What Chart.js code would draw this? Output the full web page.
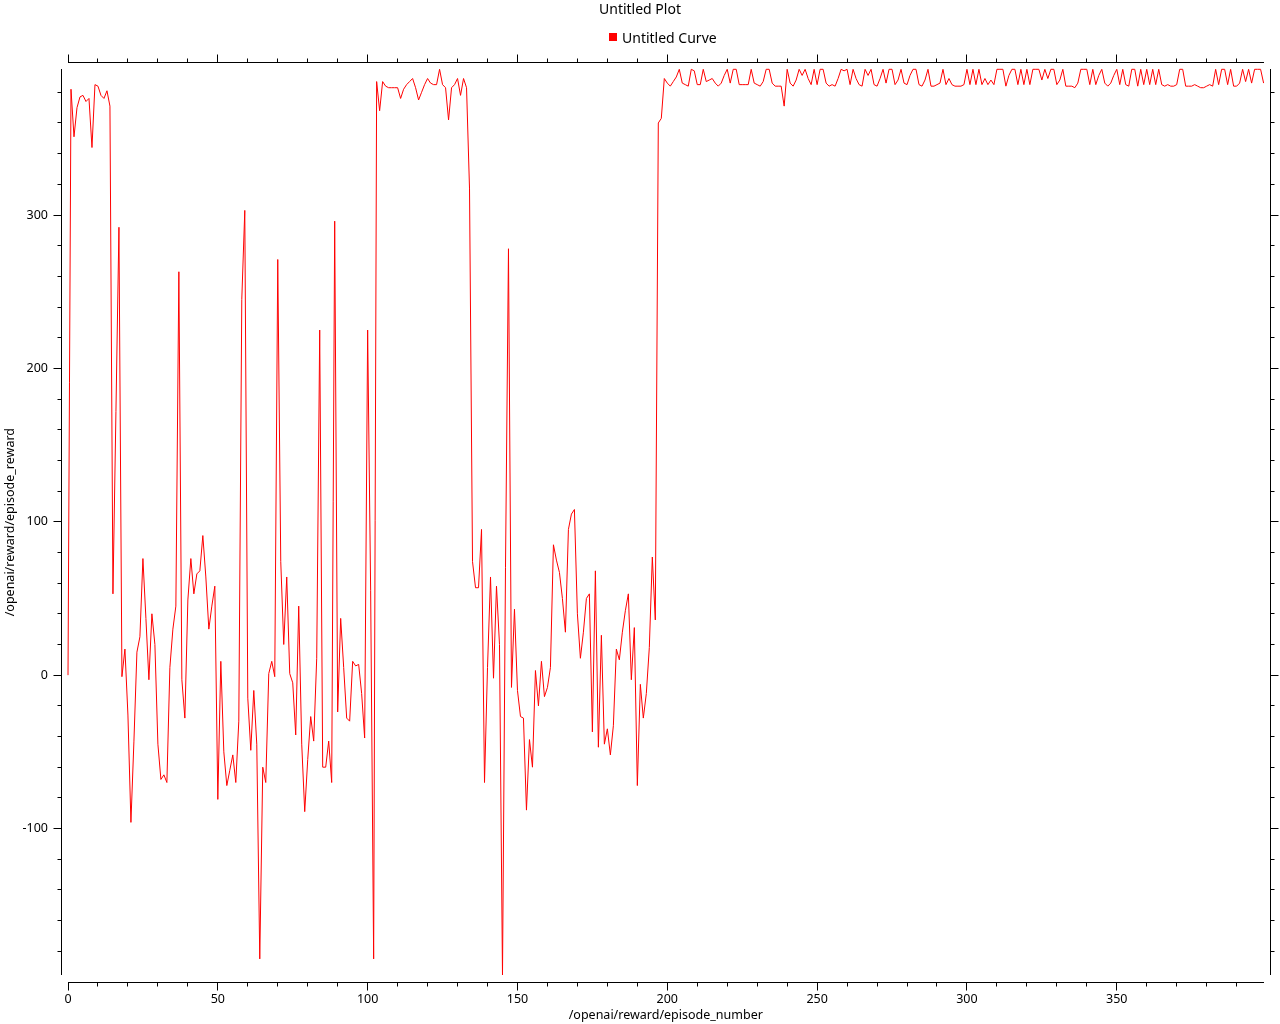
<!DOCTYPE html>
<html>
<head>
<meta charset="utf-8">
<script src="https://cdn.jsdelivr.net/npm/chart.js@4.4.1/dist/chart.umd.min.js"></script>
<style>
  html, body { margin: 0; padding: 0; background: #ffffff; }
  #wrap { position: relative; width: 1280px; height: 1024px; overflow: hidden; }
  canvas { position: absolute; left: 0; top: 0; }
  #title { position: absolute; left: 0; top: 0; width: 1280px; text-align: center;
           font: 14px "Noto Sans", "DejaVu Sans", sans-serif; line-height: 18px; color: #000; }
  #legend { position: absolute; left: 609px; top: 28px; height: 18px; display: flex; align-items: center;
            font: 14px "Noto Sans", "DejaVu Sans", sans-serif; color: #000; }
  #legend .sw { width: 8px; height: 8px; background: #ff0000; margin-right: 5px; }
</style>
</head>
<body>
<div id="wrap">
  <canvas id="c" width="1280" height="1024"></canvas>
  <div id="title">Untitled Plot</div>
  <div id="legend"><span class="sw"></span><span>Untitled Curve</span></div>
</div>
<script>
// ---- data ----
const plotTitle = "Untitled Plot";
const seriesName = "Untitled Curve";
const xAxisTitle = "/openai/reward/episode_number";
const yAxisTitle = "/openai/reward/episode_reward";

const rewards = [
  0, 382, 351, 370, 377, 378, 374, 376, 344, 385,
  384, 378, 376, 381, 371, 53, 172, 292, -1, 17,
  -26, -96, -43, 15, 25, 76, 37, -3, 40, 20,
  -45, -68, -65, -70, 5, 30, 45, 263, -3, -28,
  49, 76, 53, 66, 68, 91, 64, 30, 45, 58,
  -81, 9, -50, -72, -62, -52, -70, -30, 245, 303,
  -15, -49, -10, -45, -185, -60, -70, 1, 9, -1,
  271, 74, 20, 64, 1, -5, -39, 45, -45, -89,
  -55, -27, -43, 11, 225, -60, -60, -43, -70, 296,
  -24, 37, 5, -28, -30, 9, 6, 7, -12, -41,
  225, 55, -185, 387, 368, 387, 384, 383, 383, 383,
  383, 376, 382, 385, 387, 389, 383, 375, 380, 385,
  389, 386, 385, 385, 395, 385, 383, 362, 383, 385,
  389, 378, 389, 383, 317, 74, 57, 57, 95, -70,
  5, 64, -2, 58, 20, -195.5, 70, 278, -8, 43,
  -10, -27, -28, -88, -42, -60, 3, -20, 9, -14,
  -8, 5, 85, 75, 67, 50, 28, 95, 105, 108,
  40, 11, 28, 50, 53, -37, 68, -47, 26, -45,
  -35, -52, -33, 17, 10, 28, 42, 53, -3, 31,
  -72, -6, -28, -12, 18, 77, 36, 360, 363, 389,
  386, 384, 387, 390, 395, 386, 385, 384, 395, 394,
  385, 385, 395, 387, 388, 389, 386, 384, 386, 391,
  395, 386, 395, 395, 385, 385, 385, 385, 395, 386,
  385, 384, 387, 395, 395, 386, 384, 384, 384, 371,
  395, 386, 384, 388, 395, 391, 395, 389, 385, 395,
  385, 395, 395, 386, 384, 385, 384, 389, 395, 394,
  395, 385, 395, 389, 385, 384, 395, 391, 395, 385,
  384, 389, 395, 386, 395, 395, 385, 388, 395, 386,
  385, 391, 395, 395, 385, 384, 388, 395, 384, 384,
  385, 386, 395, 385, 389, 385, 384, 384, 384, 385,
  395, 385, 395, 385, 395, 385, 389, 385, 388, 385,
  395, 395, 395, 384, 391, 395, 395, 385, 395, 385,
  395, 385, 395, 395, 395, 388, 395, 389, 395, 395,
  385, 388, 395, 384, 384, 384, 383, 386, 395, 395,
  395, 385, 395, 385, 391, 395, 386, 384, 386, 391,
  395, 385, 395, 385, 384, 395, 395, 384, 395, 385,
  395, 385, 395, 385, 395, 385, 384, 385, 384, 384,
  385, 395, 395, 384, 384, 384, 385, 384, 383, 383,
  384, 385, 384, 395, 385, 395, 395, 385, 395, 384,
  384, 386, 395, 387, 395, 386, 395, 395, 395, 386
];
// episode numbers are the index of each reward
const episodeNumbers = rewards.map((_, i) => i);

const xTickLabels = [0, 50, 100, 150, 200, 250, 300, 350];
const yTickLabels = [-100, 0, 100, 200, 300];
const xMinorStep = 10, xMajorStep = 50;
const yMinorStep = 20, yMajorStep = 100;

// ---- chart ----
const FONT = '"Noto Sans", "DejaVu Sans", sans-serif';
const points = episodeNumbers.map((x, i) => ({ x: x, y: rewards[i] }));
const xMin = Math.min(...episodeNumbers), xMax = Math.max(...episodeNumbers);
const yMin = Math.min(...rewards), yMax = Math.max(...rewards);

// Qwt-style detached axes: backbone spans the data range, ticks point outward
const qwtAxes = {
  id: 'qwtAxes',
  afterDraw(chart) {
    const { ctx, chartArea: a } = chart;
    const xs = chart.scales.x, ys = chart.scales.y;
    const gap = 7, major = 8, minor = 4;
    const leftX = Math.floor(a.left - gap) + 0.5;
    const rightX = Math.floor(a.right + gap) + 0.5;
    const topY = Math.floor(a.top - gap) + 0.5;
    const botY = Math.floor(a.bottom + gap) + 0.5;
    const x0 = xs.getPixelForValue(xMin), x1 = xs.getPixelForValue(xMax);
    const y0 = ys.getPixelForValue(yMin), y1 = ys.getPixelForValue(yMax);
    ctx.save();
    ctx.strokeStyle = '#000000';
    ctx.lineWidth = 1;
    ctx.beginPath();
    ctx.moveTo(Math.floor(x0), botY); ctx.lineTo(Math.ceil(x1), botY);
    ctx.moveTo(Math.floor(x0), topY); ctx.lineTo(Math.ceil(x1), topY);
    ctx.moveTo(leftX, Math.floor(y1)); ctx.lineTo(leftX, Math.ceil(y0));
    ctx.moveTo(rightX, Math.floor(y1)); ctx.lineTo(rightX, Math.ceil(y0));
    for (let v = Math.ceil(xMin / xMinorStep) * xMinorStep; v <= xMax; v += xMinorStep) {
      const p = Math.floor(xs.getPixelForValue(v)) + 0.5;
      const len = (v % xMajorStep === 0) ? major : minor;
      ctx.moveTo(p, botY); ctx.lineTo(p, botY + len);
      ctx.moveTo(p, topY); ctx.lineTo(p, topY - len);
    }
    for (let v = Math.ceil(yMin / yMinorStep) * yMinorStep; v <= yMax; v += yMinorStep) {
      const p = Math.floor(ys.getPixelForValue(v)) + 0.5;
      const len = (v % yMajorStep === 0) ? major : minor;
      ctx.moveTo(leftX, p); ctx.lineTo(leftX - len, p);
      ctx.moveTo(rightX, p); ctx.lineTo(rightX + len, p);
    }
    ctx.stroke();
    ctx.restore();
  }
};

new Chart(document.getElementById('c'), {
  type: 'line',
  data: {
    datasets: [{
      label: seriesName,
      data: points,
      borderColor: '#ff0000',
      backgroundColor: '#ff0000',
      borderWidth: 1,
      pointRadius: 0,
      pointHoverRadius: 0,
      tension: 0,
      fill: false,
      clip: 3
    }]
  },
  options: {
    responsive: false,
    animation: false,
    events: [],
    layout: { padding: { top: 69.3, right: 16.4, bottom: 0, left: 0 } },
    plugins: {
      legend: { display: false },
      title: { display: false, text: plotTitle },
      tooltip: { enabled: false }
    },
    scales: {
      x: {
        type: 'linear',
        position: 'bottom',
        min: xMin,
        max: xMax,
        afterBuildTicks: (s) => { s.ticks = xTickLabels.map(v => ({ value: v })); },
        afterFit: (s) => { s.height = 49; },
        grid: { display: false, drawTicks: false },
        border: { display: false },
        ticks: { color: '#000', font: { family: FONT, size: 12.5 }, padding: 17, maxRotation: 0, autoSkip: false },
        title: { display: true, text: xAxisTitle, color: '#000', font: { family: FONT, size: 12.5 }, padding: { top: 0, bottom: 1 } }
      },
      y: {
        type: 'linear',
        position: 'left',
        min: yMin,
        max: yMax,
        afterBuildTicks: (s) => { s.ticks = yTickLabels.map(v => ({ value: v })); },
        afterFit: (s) => { s.width = 68; },
        grid: { display: false, drawTicks: false },
        border: { display: false },
        ticks: { color: '#000', font: { family: FONT, size: 12.5 }, padding: 20, autoSkip: false },
        title: { display: true, text: yAxisTitle, color: '#000', font: { family: FONT, size: 12.5 }, padding: { top: 3, bottom: 0 } }
      }
    }
  },
  plugins: [qwtAxes]
});
</script>
</body>
</html>
